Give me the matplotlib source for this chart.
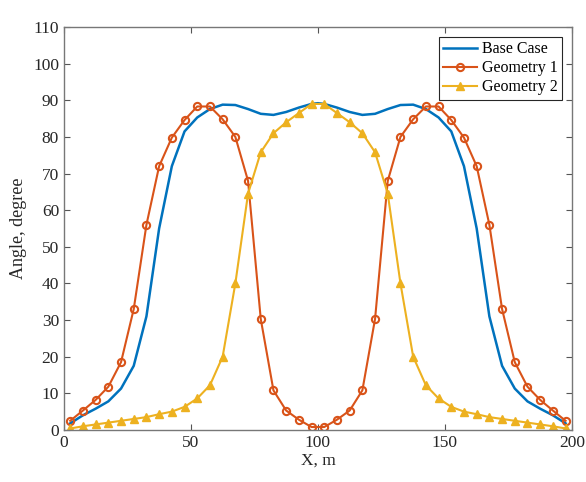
import matplotlib
matplotlib.use('Agg')
import matplotlib.pyplot as plt

# shared sample positions for the two geometries (every 5 m)
x_pts = [2.5 + 5 * i for i in range(40)]

# left half, right half mirrors it
geom1_half = [2.5, 5.3, 8.2, 11.8, 18.5, 33.0, 56.0, 72.0, 79.8, 84.6,
              88.3, 88.3, 84.8, 80.0, 68.0, 30.3, 10.8, 5.3, 2.8, 0.8]
geom1 = geom1_half + geom1_half[::-1]

geom2_half = [0.4, 1.0, 1.5, 2.0, 2.5, 3.0, 3.5, 4.3, 5.0, 6.3,
              8.6, 12.2, 20.0, 40.0, 64.5, 75.8, 81.0, 84.0, 86.5, 89.0]
geom2 = geom2_half + geom2_half[::-1]

base_x = [2.5 + 5 * i for i in range(20)] + [100] + [102.5 + 5 * i for i in range(20)]
base_half = [1.8, 4.0, 5.8, 7.8, 11.3, 17.5, 31.0, 55.0, 72.0, 81.5,
             85.3, 87.6, 88.8, 88.7, 87.6, 86.3, 86.0, 86.8, 88.0, 89.0]
base = base_half + [89.2] + base_half[::-1]

labels = ['Base Case', 'Geometry 1', 'Geometry 2']
colors = ['#0072BD', '#D95319', '#EDB120']

plt.rcParams['font.family'] = ['Liberation Serif', 'DejaVu Serif']

fig = plt.figure(figsize=(5.86, 4.82), dpi=100)
ax = fig.add_axes([0.109, 0.108, 0.867, 0.836])

ax.plot(base_x, base, color=colors[0], lw=1.8, label=labels[0])
ax.plot(x_pts, geom1, color=colors[1], lw=1.5, marker='o', ms=5.2,
        mfc='none', mew=1.5, label=labels[1])
ax.plot(x_pts, geom2, color=colors[2], lw=1.5, marker='^', ms=5.2,
        mfc=colors[2], label=labels[2])

ax.set_xlim(0, 200)
ax.set_ylim(0, 110)
ax.set_xticks(range(0, 201, 50))
ax.set_yticks(range(0, 111, 10))
ax.tick_params(direction='in', top=True, right=True, length=4,
               color='#555555', labelsize=12.5, labelcolor='#262626')
for s in ax.spines.values():
    s.set_color('#777777')
    s.set_linewidth(1.0)

ax.set_xlabel('X, m', fontsize=12.5, color='#262626', labelpad=1)
ax.set_ylabel('Angle, degree', fontsize=13, color='#262626', labelpad=4)

leg = ax.legend(loc='upper right', fontsize=11.5, fancybox=False,
                framealpha=1, edgecolor='#262626', borderpad=0.3,
                handlelength=2.1, handletextpad=0.3, labelspacing=0.18,
                borderaxespad=0.6)
leg.get_frame().set_linewidth(0.8)

fig.savefig('out.png', dpi=100)
